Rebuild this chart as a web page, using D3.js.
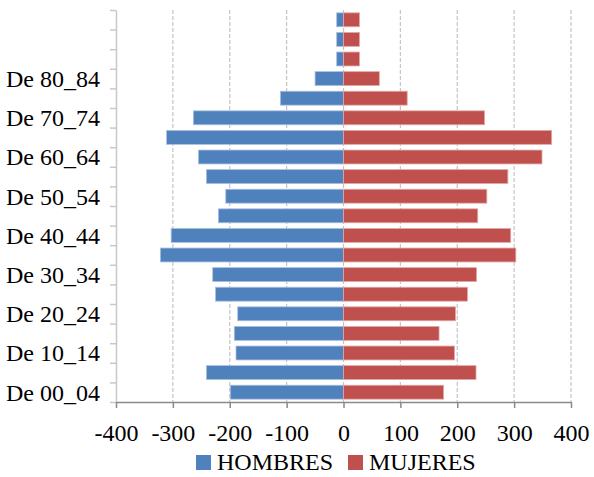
<!DOCTYPE html>
<html>
<head>
<meta charset="utf-8">
<script src="https://cdn.jsdelivr.net/npm/d3@7"></script>
<style>
    body { margin: 0; background: #fff; }
    text { font-family: "Liberation Serif", "Times New Roman", serif; }
</style>
</head>
<body>
<div id="chart-area"></div>
<script>
// data (bottom to top)
const categories = [
    'De 00_04', 'De 05_09', 'De 10_14', 'De 15_19', 'De 20_24',
    'De 25_29', 'De 30_34', 'De 35_39', 'De 40_44', 'De 45_49',
    'De 50_54', 'De 55_59', 'De 60_64', 'De 65_69', 'De 70_74',
    'De 75_79', 'De 80_84', 'De 85_89', 'De 90_94', 'De 95_99'
];
const hombres = [-199, -241, -189, -192, -186, -225, -230, -322, -303, -220,
                 -207, -241, -255, -311, -264, -111, -50, -12, -12, -12];
const mujeres = [176, 233, 195, 168, 197, 218, 234, 303, 294, 236,
                 252, 289, 349, 366, 248, 112, 63, 28, 28, 28];
const shownLabels = ['De 00_04', 'De 10_14', 'De 20_24', 'De 30_34', 'De 40_44',
                     'De 50_54', 'De 60_64', 'De 70_74', 'De 80_84'];
const xTicks = [-400, -300, -200, -100, 0, 100, 200, 300, 400];
const seriesNames = ['HOMBRES', 'MUJERES'];
const colors = ['#4f81bd', '#c0504d'];

// margins
const margin = { left: 116, right: 23, top: 10, bottom: 75 };
const width = 594 - margin.left - margin.right;
const height = 477 - margin.top - margin.bottom;

const svg = d3.select('#chart-area')
    .append('svg')
        .attr('width', 594)
        .attr('height', 477);

const g = svg.append('g')
    .attr('transform', `translate(${margin.left}, ${margin.top})`);

// scales
const x = d3.scaleLinear()
    .domain([-400, 400])
    .range([0, width]);

const y = d3.scaleBand()
    .domain(categories)
    .range([height, 0])
    .paddingInner(0.29)
    .paddingOuter(0.145);

const yEdge = d3.scaleLinear()
    .domain([0, categories.length])
    .range([height, 0]);

// grid lines
g.selectAll('.grid')
    .data(xTicks.filter(t => t > -400))
    .enter()
        .append('line')
            .attr('class', 'grid')
            .attr('x1', d => x(d))
            .attr('x2', d => x(d))
            .attr('y1', 0)
            .attr('y2', height)
            .attr('stroke', '#c4c4c4')
            .attr('stroke-width', 1.2)
            .attr('stroke-dasharray', '4,2');

// bars
const rows = categories.map((c, i) => ({ cat: c, h: hombres[i], m: mujeres[i] }));

g.selectAll('.bar-h')
    .data(rows)
    .enter()
        .append('rect')
            .attr('x', d => x(d.h))
            .attr('y', d => y(d.cat))
            .attr('width', d => x(0) - x(d.h))
            .attr('height', y.bandwidth())
            .attr('fill', colors[0])
            .attr('stroke', '#a9c0df')
            .attr('stroke-width', 0.8);

g.selectAll('.bar-m')
    .data(rows)
    .enter()
        .append('rect')
            .attr('x', x(0))
            .attr('y', d => y(d.cat))
            .attr('width', d => x(d.m) - x(0))
            .attr('height', y.bandwidth())
            .attr('fill', colors[1])
            .attr('stroke', '#e0a9a7')
            .attr('stroke-width', 0.8);

// y axis
const yAxis = g.append('g')
    .call(d3.axisLeft(yEdge)
        .tickValues(d3.range(categories.length + 1))
        .tickSize(6)
        .tickSizeOuter(0)
        .tickFormat(''));
yAxis.selectAll('line, path').attr('stroke', '#c8c8c8').attr('stroke-width', 1.5);

g.selectAll('.y-label')
    .data(shownLabels)
    .enter()
        .append('text')
            .attr('x', -16)
            .attr('y', d => y(d) + y.bandwidth() / 2)
            .attr('dy', '0.35em')
            .attr('text-anchor', 'end')
            .attr('font-size', '24px')
            .text(d => d);

// x axis
const xAxis = g.append('g')
    .attr('transform', `translate(0, ${height})`)
    .call(d3.axisBottom(x)
        .tickValues(xTicks)
        .tickSize(6)
        .tickSizeOuter(0)
        .tickPadding(16)
        .tickFormat(d3.format('d')));
xAxis.selectAll('line, path').attr('stroke', '#8a8a8a').attr('stroke-width', 1.5);
xAxis.selectAll('text')
    .attr('font-size', '24px')
    .attr('font-family', '"Liberation Serif", serif')
    .attr('fill', '#000')
    .text(d => d < 0 ? '-' + Math.abs(d) : d);

// legend
const legend = svg.append('g')
    .attr('transform', 'translate(196, 455)');
const legendX = [0, 152];
seriesNames.forEach((name, i) => {
    legend.append('rect')
        .attr('x', legendX[i])
        .attr('y', 0)
        .attr('width', 15)
        .attr('height', 15)
        .attr('fill', colors[i]);
    legend.append('text')
        .attr('x', legendX[i] + 21)
        .attr('y', 15)
        .attr('font-size', '24px')
        .text(name);
});
</script>
</body>
</html>
